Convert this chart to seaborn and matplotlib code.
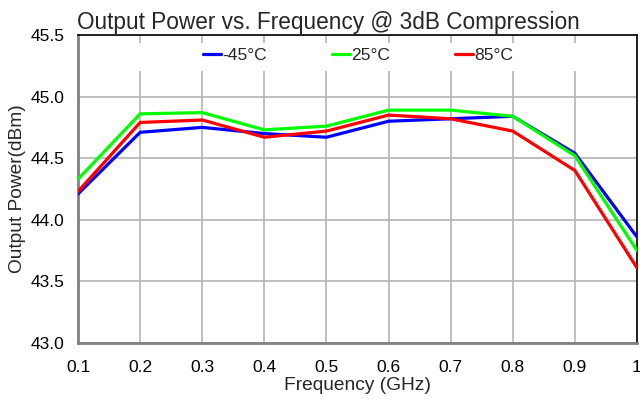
import matplotlib
matplotlib.use("Agg")
import matplotlib.pyplot as plt
from matplotlib.patches import Rectangle
import seaborn as sns
import pandas as pd

# Measured output power at 3 dB compression
freq_ghz = [0.1, 0.2, 0.3, 0.4, 0.5, 0.6, 0.7, 0.8, 0.9, 1.0]
p_m45 = [44.21, 44.71, 44.75, 44.70, 44.67, 44.80, 44.82, 44.84, 44.54, 43.86]
p_25 = [44.33, 44.86, 44.87, 44.73, 44.76, 44.89, 44.89, 44.84, 44.52, 43.75]
p_85 = [44.23, 44.79, 44.81, 44.67, 44.72, 44.85, 44.82, 44.72, 44.40, 43.61]
temps = ["-45°C", "25°C", "85°C"]
colors = ["#0000ff", "#00ff00", "#ff0000"]
x_ticks = [0.1, 0.2, 0.3, 0.4, 0.5, 0.6, 0.7, 0.8, 0.9, 1.0]
x_tick_labels = ["0.1", "0.2", "0.3", "0.4", "0.5", "0.6", "0.7", "0.8", "0.9", "1"]
y_ticks = [43.0, 43.5, 44.0, 44.5, 45.0, 45.5]

df = pd.DataFrame({
    "Frequency": freq_ghz * 3,
    "Power": p_m45 + p_25 + p_85,
    "Temp": [t for t in temps for _ in freq_ghz],
})

sns.set_style("white")
plt.rcParams["font.family"] = ["Liberation Sans", "DejaVu Sans"]

fig = plt.figure(figsize=(6.4, 3.99), dpi=100)
ax = fig.add_axes([0.1219, 0.1404, 0.8734, 0.7719])

sns.lineplot(data=df, x="Frequency", y="Power", hue="Temp", hue_order=temps,
             palette=dict(zip(temps, colors)), linewidth=2.3, ax=ax,
             legend=True, zorder=3)

ax.set_xlim(0.1, 1.0)
ax.set_ylim(43.0, 45.5)
ax.set_xticks(x_ticks)
ax.set_xticklabels(x_tick_labels)
ax.set_yticks(y_ticks)
ax.set_yticklabels([f"{v:.1f}" for v in y_ticks])
ax.tick_params(axis="both", length=0, labelsize=12.5, colors="black")
ax.tick_params(axis="x", pad=12.5)
ax.tick_params(axis="y", pad=10)
ax.grid(True, color="#b4b4b4", linewidth=1.2, zorder=0)
ax.set_axisbelow(True)

for side in ("top", "right"):
    ax.spines[side].set_color("black")
    ax.spines[side].set_linewidth(1.2)
for side in ("left", "bottom"):
    ax.spines[side].set_color("#808080")
    ax.spines[side].set_linewidth(2.0)

ax.set_xlabel("Frequency (GHz)", fontsize=13.8, labelpad=1)
ax.set_ylabel("Output Power(dBm)", fontsize=13.8, labelpad=3)
fig.text(0.12, 0.927, "Output Power vs. Frequency @ 3dB Compression",
         fontsize=16.3, ha="left", va="baseline")

# white band behind the legend entries
ax.add_patch(Rectangle((0.03, 0.882), 0.94, 0.092, transform=ax.transAxes,
                       facecolor="white", edgecolor="none", zorder=1))

handles, labels = ax.get_legend_handles_labels()
ax.legend(handles, labels, ncol=3, loc="center", frameon=False,
          bbox_to_anchor=(0.56, 0.862), bbox_transform=fig.transFigure,
          fontsize=12.6, handlelength=1.0, handletextpad=0.1,
          columnspacing=3.7)

fig.savefig("out.png", dpi=100)
